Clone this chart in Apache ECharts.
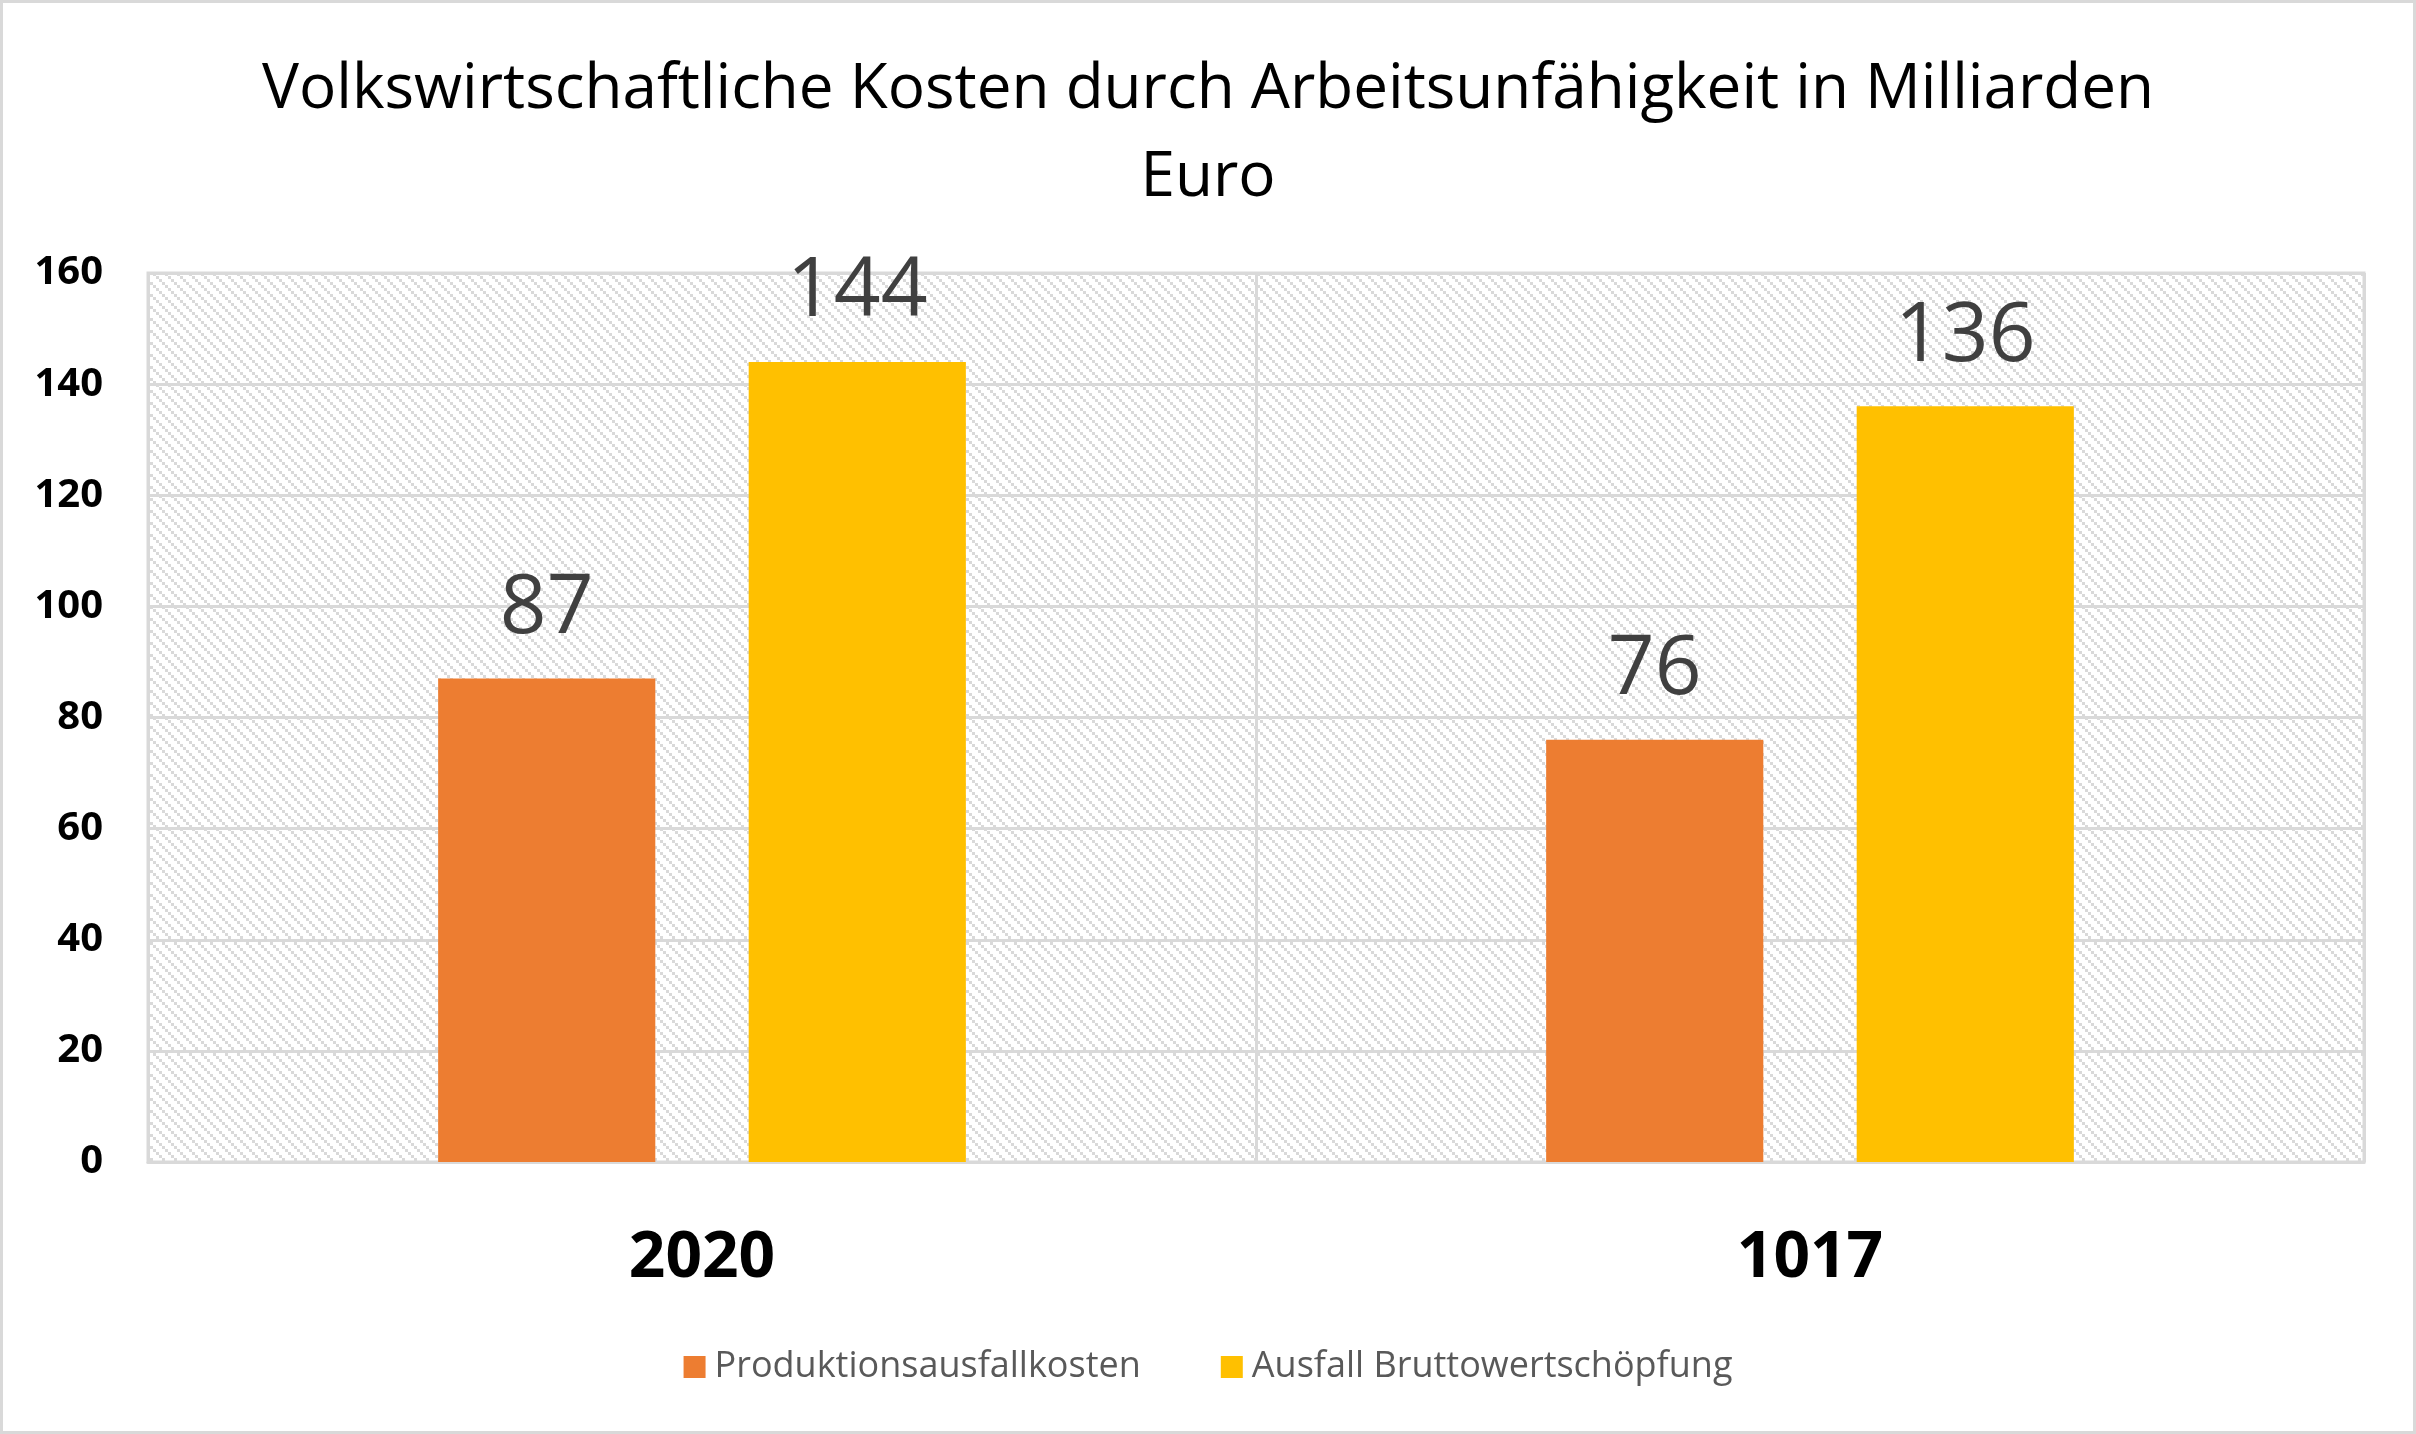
<!DOCTYPE html>
<html>
<head>
<meta charset="utf-8">
<style>
html,body{margin:0;padding:0;background:#fff;}
#chart{width:2416px;height:1434px;}
</style>
<script src="https://cdn.jsdelivr.net/npm/echarts@6/dist/echarts.min.js"></script>
</head>
<body>
<div id="chart"></div>
<script>
const titleText = 'Volkswirtschaftliche Kosten durch Arbeitsunfähigkeit in Milliarden\nEuro';
const categories = ['2020', '1017'];
const seriesNames = ['Produktionsausfallkosten', 'Ausfall Bruttowertschöpfung'];
const produktionsausfallkosten = [87, 76];
const ausfallBruttowertschoepfung = [144, 136];
const colors = ['#ED7D31', '#FFC000'];

// hatch pattern (downward diagonal)
const tile = document.createElement('canvas');
tile.width = 12; tile.height = 12;
const tc = tile.getContext('2d');
tc.fillStyle = '#ffffff';
tc.fillRect(0, 0, 12, 12);
tc.fillStyle = '#d9d9d9';
for (let i = 0; i < 12; i += 3) {
  tc.fillRect(i, i, 3, 3);
}

const chart = echarts.init(document.getElementById('chart'));
const FONT = '"Open Sans", sans-serif';
chart.setOption({
  backgroundColor: '#ffffff',
  animation: false,
  title: {
    text: titleText,
    left: 'center',
    top: 41,
    textStyle: { fontFamily: FONT, fontSize: 62, fontWeight: 'normal', color: '#000000', lineHeight: 88 }
  },
  legend: {
    bottom: 44,
    left: 'center',
    itemWidth: 22,
    itemHeight: 22,
    itemGap: 80,
    icon: 'rect',
    textStyle: { fontFamily: FONT, fontSize: 36, color: '#595959', padding: [0, 0, 0, 4] },
    data: seriesNames
  },
  grid: {
    left: 148, right: 52, top: 273, bottom: 272,
    show: true,
    borderColor: '#d9d9d9',
    borderWidth: 3,
    backgroundColor: { image: tile, repeat: 'repeat' }
  },
  xAxis: {
    type: 'category',
    data: categories,
    axisLine: { show: true, lineStyle: { color: '#d9d9d9', width: 3 } },
    axisTick: { show: false },
    splitLine: { show: true, lineStyle: { color: '#d9d9d9', width: 3 } },
    axisLabel: { fontFamily: FONT, fontSize: 64, fontWeight: 'bold', color: '#000000', margin: 65, lineHeight: 64 }
  },
  yAxis: {
    type: 'value',
    min: 0, max: 160, interval: 20,
    axisLine: { show: false },
    axisTick: { show: false },
    splitLine: { show: true, lineStyle: { color: '#d9d9d9', width: 3 } },
    axisLabel: { fontFamily: FONT, fontSize: 40, fontWeight: 'bold', color: '#000000', margin: 45 }
  },
  series: [
    {
      name: seriesNames[0], type: 'bar', data: produktionsausfallkosten,
      barWidth: '19.6%', barGap: '43%',
      itemStyle: { color: colors[0] },
      label: { show: true, position: 'top', distance: 28, fontFamily: FONT, fontSize: 82, color: '#404040' }
    },
    {
      name: seriesNames[1], type: 'bar', data: ausfallBruttowertschoepfung,
      barWidth: '19.6%', barGap: '43%',
      itemStyle: { color: colors[1] },
      label: { show: true, position: 'top', distance: 28, fontFamily: FONT, fontSize: 82, color: '#404040' }
    }
  ],
  graphic: [{
    type: 'rect', z: 100, silent: true,
    shape: { x: 1.5, y: 1.5, width: 2413, height: 1431 },
    style: { fill: 'none', stroke: '#d9d9d9', lineWidth: 3 }
  }]
});
</script>
</body>
</html>
